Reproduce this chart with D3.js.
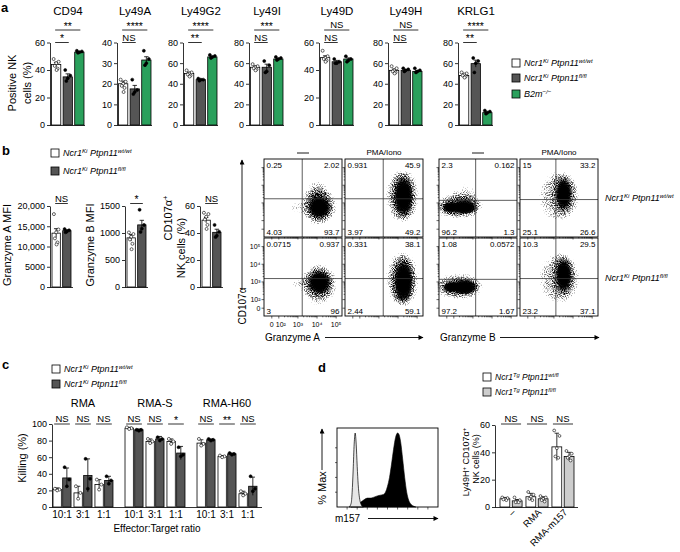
<!DOCTYPE html>
<html><head><meta charset="utf-8">
<script src="https://cdn.jsdelivr.net/npm/d3@7"></script>
<style>
body{margin:0;background:#fff;}
svg{display:block;font-family:"Liberation Sans",Arial,Helvetica,sans-serif;}
</style></head><body>
<svg id="fig" width="680" height="552"></svg>
<script>
// ================= DATA =================
// Panel a
const aMarkers = ["CD94","Ly49A","Ly49G2","Ly49I","Ly49D","Ly49H","KRLG1"];
const aMax = [60,40,80,80,60,80,80];
const aTickStep = [20,10,20,20,20,20,20];
const aWt = [44,20,50,56,49,53,48];
const aFl = [35,17.5,44,56,46,53,59.5];
const aB2m = [53,31.5,66,64,48,52,12];
const aWtErr = [1.6,1.3,1.2,1.3,1.3,1.3,1.0];
const aFlErr = [2.2,1.7,0.5,3,1,0.8,3.4];
const aB2mErr = [0.5,1.6,0.7,0.6,0.8,0.8,0.7];
const aWtPts = [[48,46,45,43,41,40],[22,21,20,19,18,16],[53,51,50,49,48,47],[59,57,56,55,54,53],[54,50,49,48,47,46],[57,55,53,52,51,50],[51,50,49,48,47,46]];
const aFlPts = [[40,36,34,32],[22,17,16,15],[45,44,44,43],[62,58,52,51],[48,46,45,45],[55,54,53,52],[65,62,60,51]];
const aB2mPts = [[54,53.5,53,52.5],[36,32,30,29],[68,67,66,65],[66,65,64,63],[50,48,47,46],[55,53,52,51],[14,13,12,11]];
const aSigTop = ["**","****","****","***","NS","NS","****"];
const aSigLow = ["*","NS","**","NS","NS","NS","**"];
const aYLabel = ["Positive NK","cells (%)"];
const legKi = [
  [["Ncr1",""],["Ki","sup"],[" Ptpn11",""],["wt/wt","sup"]],
  [["Ncr1",""],["Ki","sup"],[" Ptpn11",""],["fl/fl","sup"]],
  [["B2m",""],["\u2212/\u2212","sup"]]
];
const legTg = [
  [["Ncr1",""],["Tg","sup"],[" Ptpn11",""],["wt/fl","sup"]],
  [["Ncr1",""],["Tg","sup"],[" Ptpn11",""],["fl/fl","sup"]]
];

// Panel b
const bMax = [20000,1500,60];
const bTicks = [[0,5000,10000,15000,20000],[0,500,1000,1500],[0,20,40,60]];
const bTickLabels = [["0","5000","10,000","15,000","20,000"],["0","500","1000","1500"],["0","20","40","60"]];
const bWt = [13300,910,49.5];
const bFl = [13900,1150,40.5];
const bWtErr = [1100,60,2];
const bFlErr = [250,85,2.3];
const bWtPts = [[18000,14200,13500,12000,11000,10500],[1010,980,930,880,800,700],[55,54,52,50,46,43]];
const bFlPts = [[14300,14000,13700,13500],[1430,1150,1080,1020],[46,41,38,37]];
const bSig = ["NS","*","NS"];

// Flow plots (b)
const flowHeads = ["\u2014","PMA/Iono","\u2014","PMA/Iono"];
const flowQuad = [
 [["0.25","2.02","4.03","93.7"],["0.931","45.9","3.97","49.2"],["2.3","0.162","96.2","1.3"],["15","33.2","25.1","26.6"]],
 [["0.0715","0.937","3","96"],["0.331","38.1","2.44","59.1"],["1.08","0.0572","97.2","1.67"],["10.3","29.5","23.2","37.1"]]
];
const flowGateX = [0.49,0.49,0.47,0.46];
const flowGateY = [[0.51,0.51,0.53,0.52],[0.52,0.52,0.53,0.52]];
// dense cores: [fx, fy, rx, ry]
const flowCores = [
 [ [[0.71,0.62,0.14,0.14]], [[0.75,0.48,0.12,0.24]], [[0.32,0.62,0.17,0.09],[0.15,0.62,0.11,0.07]], [[0.56,0.45,0.10,0.20]] ],
 [ [[0.71,0.57,0.14,0.15]], [[0.75,0.56,0.12,0.26]], [[0.33,0.63,0.16,0.10],[0.16,0.63,0.11,0.07]], [[0.56,0.48,0.10,0.21]] ]
];
// scattered halos: [fx, fy, rx, ry, density]
const flowHalos = [
 [
  [[0.70,0.60,0.24,0.26,0.45],[0.38,0.62,0.09,0.07,0.5],[0.68,0.38,0.14,0.2,0.28]],
  [[0.73,0.47,0.22,0.36,0.45],[0.30,0.62,0.07,0.07,0.4]],
  [[0.24,0.60,0.34,0.17,0.45],[0.35,0.40,0.18,0.16,0.28]],
  [[0.50,0.48,0.27,0.34,0.45]]
 ],
 [
  [[0.70,0.60,0.24,0.28,0.45],[0.40,0.57,0.09,0.07,0.5]],
  [[0.73,0.52,0.22,0.36,0.45]],
  [[0.24,0.62,0.34,0.17,0.45]],
  [[0.50,0.52,0.27,0.34,0.45]]
 ]
];
const flowRowLabels = [
  [["Ncr1",""],["Ki","sup"],[" Ptpn11",""],["wt/wt","sup"]],
  [["Ncr1",""],["Ki","sup"],[" Ptpn11",""],["fl/fl","sup"]]
];
const flowYTickLabels = ["10\u2075","10\u2074","10\u00b3","10\u00b2","0"];
const flowXTickLabels = ["0","10\u00b2","10\u00b3","10\u2074","10\u2075"];
const flowDecades = [5,4,3,2];

// Panel c
const cTargets = ["RMA","RMA-S","RMA-H60"];
const cRatios = ["10:1","3:1","1:1"];
const cWt = [[21,17,27],[95,79,79],[77,61,16]];
const cFl = [[35,38,32],[93,82,65],[81,64,25]];
const cWtErr = [[2,8,6],[1,3,3],[4,1,3]];
const cFlErr = [[12,20,5],[1,3,8],[1,1,11]];
const cWtPts = [[[22,21,20],[25,17,10],[33,27,21]],[[96,95,94],[82,79,77],[82,79,76]],[[82,76,74],[62,61,60],[19,16,14]]];
const cFlPts = [[[48,33,25],[58,34,22],[37,32,28]],[[93,93,92],[84,82,80],[72,63,61]],[[82,81,80],[65,64,63],[37,22,19]]];
const cSig = [["NS","NS","NS"],["NS","NS","*"],["NS","**","NS"]];

// Panel d
const dStim = ["\u2013","RMA","RMA-m157"];
const dWt = [6,7.5,44];
const dFl = [4.5,6,37];
const dWtErr = [1,2.5,10];
const dFlErr = [1,1.5,3];
const dWtPts = [[7,6.5,6,5.5,5],[11,9,7.5,6,5],[56,52,43,37,36]];
const dFlPts = [[7,5,4,3.5,3.5],[8,7,6,5,4],[41,39,37,36,34]];
const dSig = ["NS","NS","NS"];
const histGray = [[12,0],[14,5],[15,20],[16,50],[17,85],[18,100],[19,85],[20,55],[21,30],[22,15],[23,7],[24,3],[26,0]];
const histBlack = [[14,0],[16,1],[20,4],[23,6],[27,10],[30,12],[33,12],[36,13],[40,15],[43,16],[46,17],[48,20],[50,28],[52,40],[54,58],[56,78],[58,94],[60,100],[61,99],[63,88],[65,65],[67,40],[69,20],[71,9],[73,4],[76,1],[78,0]];

// ================= DRAW =================
const GREEN = "#2aa05c", DARK = "#555555", LGRAY = "#cdcdcd";
const svg = d3.select("#fig");
svg.append("rect").attr("width",680).attr("height",552).attr("fill","#fff");

function rich(sel, parts, fs){
  let prevSup = false;
  parts.forEach(p=>{
    const sup = p[1]==="sup";
    const ts = sel.append("tspan").text(p[0]);
    if(sup){ ts.attr("font-size", fs*0.68).attr("dy", prevSup?0:-fs*0.38); }
    else { ts.attr("font-size", fs).attr("dy", prevSup? fs*0.38:0); }
    prevSup = sup;
  });
}
function txt(x,y,t,fs,anchor){
  return svg.append("text").attr("x",x).attr("y",y).attr("font-size",fs).attr("text-anchor",anchor||"start").text(t);
}
function vtxt(x,y,t,fs){
  return svg.append("text").attr("transform",`translate(${x},${y}) rotate(-90)`).attr("font-size",fs).attr("text-anchor","middle").text(t);
}
function line(x1,y1,x2,y2,w,col){
  return svg.append("line").attr("x1",x1).attr("y1",y1).attr("x2",x2).attr("y2",y2).attr("stroke",col||"#000").attr("stroke-width",w||0.8);
}
function sig(x1,x2,yL,label){
  line(x1,yL,x2,yL,0.8);
  const star = label.indexOf("*")>=0;
  txt((x1+x2)/2, star? yL-0.3 : yL-1.8, label, star?10.5:9.5, "middle");
}
function legendItem(x,yc,fill,parts,fs){
  svg.append("rect").attr("x",x).attr("y",yc-4).attr("width",8).attr("height",8).attr("fill",fill).attr("stroke","#000").attr("stroke-width",0.8);
  const t = svg.append("text").attr("x",x+12).attr("y",yc+3.2).attr("font-style","italic");
  rich(t, parts, fs);
}
function offsets(n){ const o=[-0.27,0.27,0,-0.15,0.15,0.05]; return d3.range(n).map(i=>o[i%6]); }

function barChart(cfg){
  const g = svg.append("g");
  const y = d3.scaleLinear().domain([0,cfg.max]).range([cfg.yBot,cfg.yTop]);
  const ax = d3.axisLeft(y).tickValues(cfg.ticks).tickSize(3).tickSizeOuter(0).tickPadding(2);
  if(cfg.labels) ax.tickFormat((d,i)=>cfg.labels[i]);
  const ga = g.append("g").attr("transform",`translate(${cfg.ax},0)`).call(ax);
  ga.attr("font-family",null).attr("font-size",null);
  ga.selectAll("text").attr("font-size",cfg.tfs||9).attr("fill","#000");
  ga.selectAll("line,path").attr("stroke","#000").attr("stroke-width",0.8);
  g.append("line").attr("x1",cfg.ax).attr("x2",cfg.xEnd).attr("y1",cfg.yBot+0.5).attr("y2",cfg.yBot+0.5).attr("stroke","#000").attr("stroke-width",0.8);
  cfg.bars.forEach(b=>{
    g.append("rect").attr("x",b.x).attr("y",y(b.v)).attr("width",b.w).attr("height",cfg.yBot-y(b.v))
      .attr("fill",b.fill).attr("stroke","#000").attr("stroke-width",0.8);
    const cx = b.x + b.w/2;
    const yt = y(b.v+b.e), yb = y(Math.max(0,b.v-b.e));
    g.append("line").attr("x1",cx).attr("x2",cx).attr("y1",yt).attr("y2",yb).attr("stroke","#000").attr("stroke-width",0.8);
    g.append("line").attr("x1",cx-2.2).attr("x2",cx+2.2).attr("y1",yt).attr("y2",yt).attr("stroke","#000").attr("stroke-width",0.8);
    const off = offsets(b.pts.length);
    b.pts.forEach((p,i)=>{
      g.append("circle").attr("cx",cx+off[i]*b.w).attr("cy",y(p)).attr("r",cfg.r||1.5)
        .attr("fill",b.open?"#fff":"#000").attr("stroke","#000").attr("stroke-width",0.6);
    });
  });
  return y;
}

// ---- panel labels ----
function plabel(t,x,y){ svg.append("text").attr("x",x).attr("y",y).attr("font-size",13).attr("font-weight","bold").text(t); }
plabel("a",1,12); plabel("b",2,155); plabel("c",2,369); plabel("d",318,372);

// ---- Panel a ----
const aAxisX = [50,117,183,249,319,388,458];
aMarkers.forEach((m,i)=>{
  const ax = aAxisX[i];
  const xb = d3.scaleBand().domain(["wt","fl","b2m"]).range([ax+1.5, ax+34]).paddingInner(0.2);
  const bars = [
    {x:xb("wt"), w:xb.bandwidth(), v:aWt[i], e:aWtErr[i], pts:aWtPts[i], fill:"#fff", open:true},
    {x:xb("fl"), w:xb.bandwidth(), v:aFl[i], e:aFlErr[i], pts:aFlPts[i], fill:DARK},
    {x:xb("b2m"), w:xb.bandwidth(), v:aB2m[i], e:aB2mErr[i], pts:aB2mPts[i], fill:GREEN}
  ];
  barChart({ax, yTop:42.5, yBot:125, max:aMax[i], ticks:d3.range(0,aMax[i]+1,aTickStep[i]), xEnd:ax+35, bars});
  txt(ax+18, 15, m, 11.5, "middle");
  const c0 = xb("wt")+xb.bandwidth()/2, c1 = xb("fl")+xb.bandwidth()/2, c2 = xb("b2m")+xb.bandwidth()/2;
  sig(c0-1, c2+1, 30, aSigTop[i]);
  sig(c0-1, c1+1, 42.5, aSigLow[i]);
});
vtxt(16, 83, aYLabel[0], 11);
vtxt(31, 83, aYLabel[1], 11);
legendItem(512, 63, "#fff", legKi[0], 9);
legendItem(512, 78, DARK, legKi[1], 9);
legendItem(512, 94, GREEN, legKi[2], 9);

// ---- Panel b bars ----
legendItem(51, 153, "#fff", legKi[0], 9);
legendItem(51, 171, DARK, legKi[1], 9);
const bAxisX = [50,125,200];
bAxisX.forEach((ax,i)=>{
  const xb = d3.scaleBand().domain(["wt","fl"]).range([ax+2, ax+21]).paddingInner(0.22);
  const bars = [
    {x:xb("wt"), w:xb.bandwidth(), v:bWt[i], e:bWtErr[i], pts:bWtPts[i], fill:"#fff", open:true},
    {x:xb("fl"), w:xb.bandwidth(), v:bFl[i], e:bFlErr[i], pts:bFlPts[i], fill:DARK}
  ];
  barChart({ax, yTop:206, yBot:287, max:bMax[i], ticks:bTicks[i], labels:bTickLabels[i], xEnd:ax+23, bars});
  sig(xb("wt")+xb.bandwidth()/2-1, xb("fl")+xb.bandwidth()/2+1, 203.5, bSig[i]);
});
vtxt(11, 245, "Granzyme A MFI", 11);
vtxt(94, 245, "Granzyme B MFI", 11);
{
  const t1 = svg.append("text").attr("transform","translate(172,218) rotate(-90)").attr("text-anchor","middle");
  rich(t1, [["CD107\u03b1",""],["+","sup"]], 11);
  vtxt(185, 248, "NK cells (%)", 11);
}

// ---- Flow plots ----
const defs = svg.append("defs");
const flt = defs.append("filter").attr("id","stip").attr("x","-5%").attr("y","-5%").attr("width","110%").attr("height","110%")
  .attr("color-interpolation-filters","sRGB");
flt.append("feGaussianBlur").attr("in","SourceAlpha").attr("stdDeviation",4.5).attr("result","b");
flt.append("feTurbulence").attr("type","fractalNoise").attr("baseFrequency",0.9).attr("numOctaves",1).attr("seed",7).attr("result","n");
flt.append("feColorMatrix").attr("in","n").attr("type","matrix")
  .attr("values","0 0 0 0 0  0 0 0 0 0  0 0 0 0 0  3 0 0 0 -1").attr("result","na");
flt.append("feComposite").attr("in","b").attr("in2","na").attr("operator","arithmetic")
  .attr("k1",0).attr("k2",3.0).attr("k3",1).attr("k4",-1.75);
const grad = defs.append("radialGradient").attr("id","coreGrad");
[[0,1],[0.55,1],[0.75,0.85],[1,0]].forEach(s=>grad.append("stop").attr("offset",s[0]).attr("stop-color","#000").attr("stop-opacity",s[1]));
const arrow = defs.append("marker").attr("id","arr").attr("viewBox","0 0 10 10").attr("refX",9).attr("refY",5)
  .attr("markerWidth",7).attr("markerHeight",5).attr("markerUnits","userSpaceOnUse").attr("orient","auto");
arrow.append("path").attr("d","M0,0L10,5L0,10z").attr("fill","#000");

const fLeft = [264,345,439,520], fTop = [159,238], fW = 78, fH = 78;
const fxDec = d3.scaleLinear().domain([2,5]).range([0.19,0.925]);
const fyDec = d3.scaleLinear().domain([2,5]).range([0.79,0.11]);
flowHeads.forEach((h,c)=>{
  const cx = fLeft[c]+fW/2;
  if(h==="\u2014") line(cx-6,153,cx+6,153,0.9);
  else txt(cx, 155, h, 8, "middle");
});
for(let r=0;r<2;r++){
  for(let c=0;c<4;c++){
    const L=fLeft[c], T=fTop[r];
    const sx = d3.scaleLinear().domain([0,1]).range([L,L+fW]);
    const sy = d3.scaleLinear().domain([0,1]).range([T,T+fH]);
    const cid = `clip${r}${c}`;
    defs.append("clipPath").attr("id",cid).append("rect").attr("x",L).attr("y",T).attr("width",fW).attr("height",fH);
    const outer = svg.append("g").attr("clip-path",`url(#${cid})`);
    const hg = outer.append("g").attr("filter","url(#stip)");
    hg.append("rect").attr("x",L).attr("y",T).attr("width",fW).attr("height",fH).attr("fill","#000").attr("fill-opacity",0);
    flowHalos[r][c].forEach(cl=>{
      hg.append("ellipse").attr("cx",sx(cl[0])).attr("cy",sy(cl[1])).attr("rx",cl[2]*fW).attr("ry",cl[3]*fH)
        .attr("fill","#000").attr("fill-opacity",cl[4]);
    });
    flowCores[r][c].forEach(cl=>{
      hg.append("ellipse").attr("cx",sx(cl[0])).attr("cy",sy(cl[1])).attr("rx",cl[2]*fW*1.2).attr("ry",cl[3]*fH*1.2)
        .attr("fill","#000").attr("fill-opacity",0.55);
    });
    flowCores[r][c].forEach(cl=>{
      outer.append("ellipse").attr("cx",sx(cl[0])).attr("cy",sy(cl[1])).attr("rx",cl[2]*fW).attr("ry",cl[3]*fH)
        .attr("fill","url(#coreGrad)");
    });
    // gates
    line(sx(flowGateX[c]),T,sx(flowGateX[c]),T+fH,0.8,"#333");
    line(L,sy(flowGateY[r][c]),L+fW,sy(flowGateY[r][c]),0.8,"#333");
    svg.append("rect").attr("x",L).attr("y",T).attr("width",fW).attr("height",fH).attr("fill","none").attr("stroke","#000").attr("stroke-width",0.9);
    // ticks
    [2,3,4].forEach(d=>{
      d3.range(1,10).forEach(k=>{
        const v = d+Math.log10(k), len = k===1?2.5:1.3;
        line(L-len, sy(fyDec(v)), L, sy(fyDec(v)), 0.6);
        line(sx(fxDec(v)), T+fH, sx(fxDec(v)), T+fH+len, 0.6);
      });
    });
    line(L-2.5, sy(fyDec(5)), L, sy(fyDec(5)), 0.6);
    line(sx(fxDec(5)), T+fH, sx(fxDec(5)), T+fH+2.5, 0.6);
    line(L-2.5, sy(0.9), L, sy(0.9), 0.6);
    line(sx(0.1), T+fH, sx(0.1), T+fH+2.5, 0.6);
    // quadrant numbers
    const q = flowQuad[r][c];
    txt(L+2.5, T+8.5, q[0], 8);
    txt(L+fW-2.5, T+8.5, q[1], 8, "end");
    txt(L+2.5, T+fH-2.5, q[2], 8);
    txt(L+fW-2.5, T+fH-2.5, q[3], 8, "end");
    if(r===1 && c===0){
      const yFr = flowDecades.map(d=>fyDec(d)).concat([0.9]);
      flowYTickLabels.forEach((lab,i)=>txt(L-3.5, sy(yFr[i])+2.4, lab, 7, "end"));
      const xFr = [0.1].concat([2,3,4,5].map(d=>fxDec(d)));
      flowXTickLabels.forEach((lab,i)=>txt(sx(xFr[i])+(i===1?2:0), T+fH+11, lab, 7, "middle"));
    }
  }
}
flowRowLabels.forEach((p,r)=>{
  const t = svg.append("text").attr("x",605).attr("y",[201,281][r]).attr("font-style","italic");
  rich(t, p, 9);
});
// axis titles with arrows
line(242,290,242,160,0.9).attr("marker-end","url(#arr)");
vtxt(246, 306, "CD107\u03b1", 10);
txt(265, 341, "Granzyme A", 10);
line(325,337.5,423,337.5,0.9).attr("marker-end","url(#arr)");
txt(440, 341, "Granzyme B", 10);
line(500,337.5,599,337.5,0.9).attr("marker-end","url(#arr)");

// ---- Panel c ----
legendItem(52, 369, "#fff", legKi[0], 9);
legendItem(52, 384, DARK, legKi[1], 9);
{
  const gx = d3.scaleBand().domain(cTargets).range([53,257]).paddingInner(0.167);
  const rx = d3.scaleBand().domain(cRatios).range([0,gx.bandwidth()]).paddingInner(0.14);
  const bx = d3.scaleBand().domain(["wt","fl"]).range([0,rx.bandwidth()]).paddingInner(0.14);
  const bars = [];
  cTargets.forEach((t,gi)=>{
    cRatios.forEach((ra,ri)=>{
      const base = gx(t)+rx(ra);
      bars.push({x:base+bx("wt"), w:bx.bandwidth(), v:cWt[gi][ri], e:cWtErr[gi][ri], pts:cWtPts[gi][ri], fill:"#fff", open:true});
      bars.push({x:base+bx("fl"), w:bx.bandwidth(), v:cFl[gi][ri], e:cFlErr[gi][ri], pts:cFlPts[gi][ri], fill:DARK});
    });
  });
  barChart({ax:52, yTop:424, yBot:507, max:100, ticks:[0,20,40,60,80,100], xEnd:262, bars});
  cTargets.forEach((t,gi)=>{
    txt(gx(t)+gx.bandwidth()/2, 407, t, 11, "middle");
    cRatios.forEach((ra,ri)=>{
      const base = gx(t)+rx(ra);
      const c0 = base+bx("wt")+bx.bandwidth()/2, c1 = base+bx("fl")+bx.bandwidth()/2;
      sig(c0-3, c1+3, 424, cSig[gi][ri]);
      txt(base+rx.bandwidth()/2, 518, ra, 10, "middle");
    });
  });
  vtxt(26, 458, "Killing (%)", 11);
  txt(157, 532, "Effector:Target ratio", 10, "middle");
}

// ---- Panel d ----
legendItem(483, 377, "#fff", legTg[0], 8.5);
legendItem(483, 392, LGRAY, legTg[1], 8.5);
{
  // histogram
  const hx = d3.scaleLinear().domain([0,100]).range([337,438]);
  const hy = d3.scaleLinear().domain([0,100]).range([507,433]);
  const area = d3.area().x(d=>hx(d[0])).y0(507).y1(d=>hy(d[1])).curve(d3.curveMonotoneX);
  svg.append("path").datum(histBlack).attr("d",area).attr("fill","#000").attr("stroke","#000").attr("stroke-width",0.6);
  svg.append("path").datum(histGray).attr("d",area).attr("fill","#e6e6e6").attr("stroke","#000").attr("stroke-width",0.7);
  svg.append("rect").attr("x",337).attr("y",428).attr("width",101).attr("height",79).attr("fill","none").attr("stroke","#000").attr("stroke-width",0.9);
  [10,20,30,40,50,60,70,80,90].forEach(v=>line(hx(v),507,hx(v),509.5,0.6));
  [20,40,60,80].forEach(v=>line(335,hy(v),337,hy(v),0.6));
  vtxt(326, 488, "% Max", 11);
  line(322,470,322,429,0.9).attr("marker-end","url(#arr)");
  txt(335, 522, "m157", 10);
  line(368,518.5,438,518.5,0.9).attr("marker-end","url(#arr)");

  // bar chart
  const gx = d3.scaleBand().domain(dStim).range([500,574]).paddingInner(0.15);
  const bx = d3.scaleBand().domain(["wt","fl"]).range([0,gx.bandwidth()]).paddingInner(0.2);
  const bars = [];
  dStim.forEach((s,i)=>{
    bars.push({x:gx(s)+bx("wt"), w:bx.bandwidth(), v:dWt[i], e:dWtErr[i], pts:dWtPts[i], fill:"#fff", open:true});
    bars.push({x:gx(s)+bx("fl"), w:bx.bandwidth(), v:dFl[i], e:dFlErr[i], pts:dFlPts[i], fill:LGRAY, open:true});
  });
  barChart({ax:495, yTop:425, yBot:507, max:60, ticks:[0,20,40,60], xEnd:578, bars, r:1.4});
  dStim.forEach((s,i)=>{
    sig(gx(s)+1, gx(s)+gx.bandwidth()-1, 424, dSig[i]);
    const cx = gx(s)+gx.bandwidth()/2;
    svg.append("text").attr("transform",`translate(${cx+5},${513}) rotate(-45)`).attr("text-anchor","end").attr("font-size",9.5).text(s);
  });
  const t1 = svg.append("text").attr("transform","translate(469,462) rotate(-90)").attr("text-anchor","middle");
  rich(t1, [["Ly49H",""],["+","sup"],[" CD107\u03b1",""],["+","sup"]], 9);
  vtxt(479, 459, "NK cells (%)", 9);
}
</script>
</body></html>
